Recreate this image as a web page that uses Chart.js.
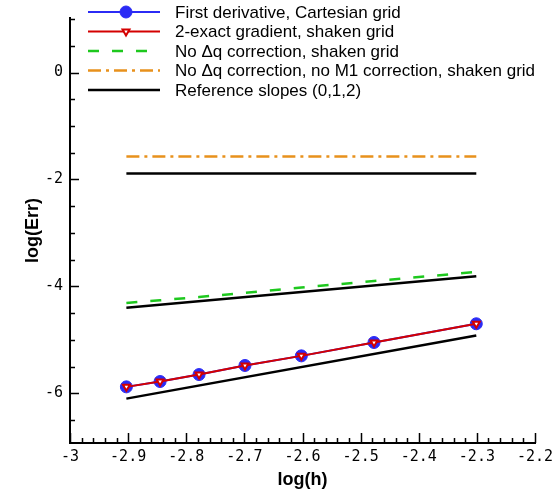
<!DOCTYPE html>
<html>
<head>
<meta charset="utf-8">
<script src="https://cdn.jsdelivr.net/npm/chart.js@4.4.1/dist/chart.umd.min.js"></script>
<style>
    html, body { margin: 0; padding: 0; background: #fff; }
</style>
</head>
<body>
<canvas id="errChart" width="558" height="494"></canvas>
<script>
// Datos (log10 de h y del error)
const logH = [-2.903, -2.845, -2.778, -2.699, -2.602, -2.477, -2.301];
const firstDerivCart = [-5.88, -5.78, -5.65, -5.48, -5.30, -5.05, -4.70];
const exactGradShaken = [-5.88, -5.78, -5.65, -5.48, -5.30, -5.05, -4.70];
const noDqShaken = [-4.31, -4.26, -4.20, -4.12, -4.02, -3.90, -3.73];
const noDqNoM1Shaken = [-1.57, -1.57, -1.57, -1.57, -1.57, -1.57, -1.57];

// Pendientes de referencia (0, 1, 2)
const refX = [-2.903, -2.301];
const refSlope0 = [-1.89, -1.89];
const refSlope1 = [-4.40, -3.81];
const refSlope2 = [-6.10, -4.92];

const legendLabels = [
    'First derivative, Cartesian grid',
    '2-exact gradient, shaken grid',
    'No \u0394q correction, shaken grid',
    'No \u0394q correction, no M1 correction, shaken grid',
    'Reference slopes (0,1,2)'
];

const xTicks = [-3, -2.9, -2.8, -2.7, -2.6, -2.5, -2.4, -2.3, -2.2];
const xTickLabels = ['-3', '-2.9', '-2.8', '-2.7', '-2.6', '-2.5', '-2.4', '-2.3', '-2.2'];
const yTicks = [-6, -4, -2, 0];
const yTickLabels = ['-6', '-4', '-2', '0'];

function pts(xs, ys) {
    return xs.map((x, i) => ({ x: x, y: ys[i] }));
}

const tickFont = { family: 'DejaVu Sans Mono', size: 15 };

// Ticks hacia adentro y leyenda dentro del gráfico
const overlay = {
    id: 'overlay',
    afterDraw(chart) {
        const ctx = chart.ctx;
        const xs = chart.scales.x;
        const ys = chart.scales.y;
        const area = chart.chartArea;
        ctx.save();
        ctx.strokeStyle = '#000';
        ctx.lineWidth = 1.5;
        ctx.beginPath();
        // eje x: mayores cada 0.1, menores cada 0.02
        for (let i = 0; i <= 40; i++) {
            const v = -3 + i * 0.02;
            const px = Math.round(xs.getPixelForValue(v)) + 0.5;
            const len = (i % 5 === 0) ? 10 : 5;
            ctx.moveTo(px, area.bottom);
            ctx.lineTo(px, area.bottom - len);
        }
        // eje y: mayores cada 2, menores cada 0.5
        for (let i = 0; i <= 16; i++) {
            const v = -7 + i * 0.5;
            if (v < ys.min || v > ys.max) continue;
            const py = Math.round(ys.getPixelForValue(v)) + 0.5;
            const len = (Math.abs(v % 2) < 1e-9) ? 9 : 5;
            ctx.moveTo(area.left, py);
            ctx.lineTo(area.left + len, py);
        }
        ctx.stroke();

        // leyenda
        const rowY = [12, 31.5, 51, 70.5, 90];
        const x0 = 88, x1 = 160, tx = 175;
        ctx.font = '17px "Liberation Sans", Arial, sans-serif';
        ctx.textBaseline = 'middle';
        ctx.textAlign = 'left';
        legendLabels.forEach((label, k) => {
            const ds = chart.data.datasets[k];
            const y = rowY[k];
            ctx.save();
            ctx.strokeStyle = ds.borderColor;
            ctx.lineWidth = ds.borderWidth;
            ctx.setLineDash(ds.borderDash || []);
            ctx.beginPath();
            ctx.moveTo(x0, y);
            ctx.lineTo(x1, y);
            ctx.stroke();
            ctx.restore();
            if (ds.pointRadius > 0) {
                ctx.save();
                ctx.fillStyle = ds.pointBackgroundColor;
                ctx.strokeStyle = ds.pointBorderColor;
                ctx.lineWidth = ds.pointBorderWidth;
                Chart.helpers.drawPoint(ctx, {
                    pointStyle: ds.pointStyle,
                    rotation: ds.pointRotation || 0,
                    radius: ds.pointRadius,
                    borderWidth: ds.pointBorderWidth
                }, (x0 + x1) / 2 + 2, y);
                ctx.restore();
            }
            ctx.fillStyle = '#000';
            ctx.fillText(label, tx, y + 1);
        });
        ctx.restore();
    }
};

const ctx = document.getElementById('errChart').getContext('2d');
const errChart = new Chart(ctx, {
    type: 'line',
    data: {
        datasets: [
            {
                label: legendLabels[0],
                data: pts(logH, firstDerivCart),
                borderColor: '#2b2bf5',
                borderWidth: 2,
                pointStyle: 'circle',
                pointRadius: 6,
                pointBorderWidth: 1,
                pointBackgroundColor: '#2b2bf5',
                pointBorderColor: '#2b2bf5',
                order: 3
            },
            {
                label: legendLabels[1],
                data: pts(logH, exactGradShaken),
                borderColor: '#d40000',
                borderWidth: 2,
                pointStyle: 'triangle',
                pointRotation: 180,
                pointRadius: 4,
                pointBorderWidth: 2,
                pointBackgroundColor: '#ffffff',
                pointBorderColor: '#d40000',
                order: 1
            },
            {
                label: legendLabels[2],
                data: pts(logH, noDqShaken),
                borderColor: '#1ec81e',
                borderWidth: 2.5,
                borderDash: [11, 13],
                pointRadius: 0,
                order: 2
            },
            {
                label: legendLabels[3],
                data: pts(logH, noDqNoM1Shaken),
                borderColor: '#e8911c',
                borderWidth: 2.5,
                borderDash: [13, 5, 3, 5],
                pointRadius: 0,
                order: 2
            },
            {
                label: legendLabels[4],
                data: pts(refX, refSlope0),
                borderColor: '#000000',
                borderWidth: 2.5,
                pointRadius: 0,
                order: 4
            },
            {
                label: 'ref1',
                data: pts(refX, refSlope1),
                borderColor: '#000000',
                borderWidth: 2.5,
                pointRadius: 0,
                order: 4
            },
            {
                label: 'ref2',
                data: pts(refX, refSlope2),
                borderColor: '#000000',
                borderWidth: 2.5,
                pointRadius: 0,
                order: 4
            }
        ]
    },
    options: {
        responsive: false,
        animation: false,
        layout: { padding: { top: 18, right: 23, left: 0, bottom: 0 } },
        plugins: {
            legend: { display: false },
            tooltip: { enabled: false }
        },
        elements: { line: { tension: 0 } },
        scales: {
            x: {
                type: 'linear',
                min: -3,
                max: -2.2,
                grid: { display: false },
                border: { display: true, color: '#000', width: 2 },
                afterBuildTicks: s => { s.ticks = xTicks.map(v => ({ value: v })); },
                afterFit: s => { s.height = 51; },
                ticks: {
                    color: '#000',
                    font: tickFont,
                    padding: -3,
                    maxRotation: 0,
                    autoSkip: false,
                    callback: (v, i) => xTickLabels[i]
                },
                title: {
                    display: true,
                    text: 'log(h)',
                    color: '#000',
                    font: { family: 'Liberation Sans', size: 18, weight: 'bold' },
                    padding: { top: 0, bottom: 3 }
                }
            },
            y: {
                type: 'linear',
                min: -6.93,
                max: 1.02,
                grid: { display: false },
                border: { display: true, color: '#000', width: 2 },
                afterBuildTicks: s => { s.ticks = yTicks.map(v => ({ value: v })); },
                afterFit: s => { s.width = 70; },
                ticks: {
                    color: '#000',
                    font: tickFont,
                    padding: -1,
                    callback: (v, i) => yTickLabels[i]
                },
                title: {
                    display: true,
                    text: 'log(Err)',
                    color: '#000',
                    font: { family: 'Liberation Sans', size: 18, weight: 'bold' },
                    padding: { top: 22, bottom: 0 }
                }
            }
        }
    },
    plugins: [overlay]
});
</script>
</body>
</html>
